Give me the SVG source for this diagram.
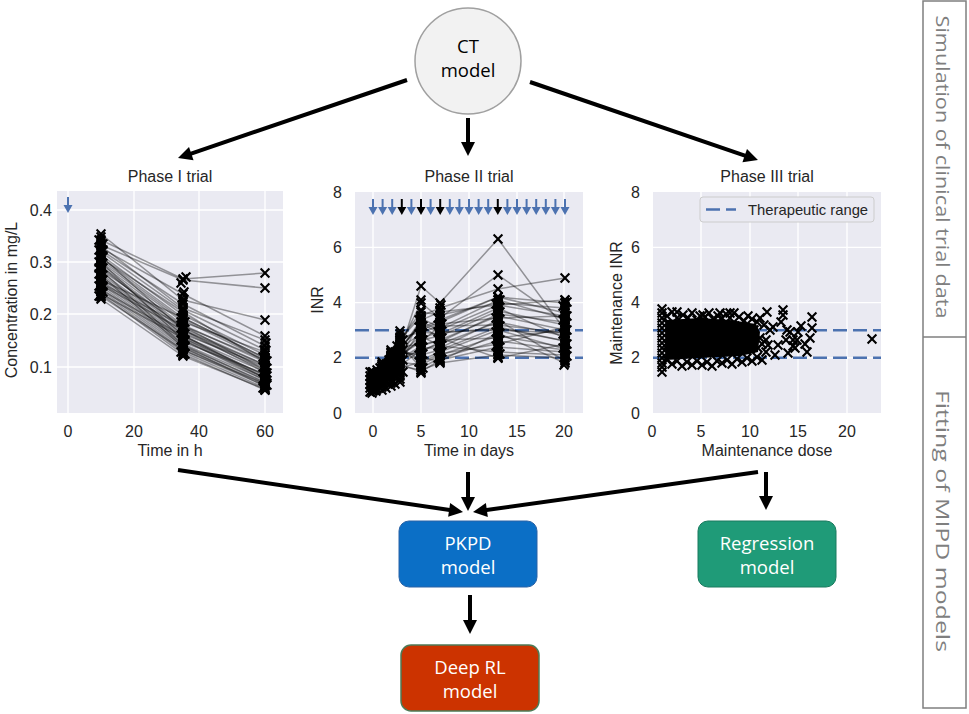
<svg xmlns="http://www.w3.org/2000/svg" xmlns:xlink="http://www.w3.org/1999/xlink" width="969" height="714" viewBox="0 0 969 714">
<style>
.ax{fill:#EAEAF2}
.gr{stroke:#fff;stroke-width:1.3;fill:none}
.tk{font-family:"Liberation Sans",Arial,sans-serif;font-size:16px;fill:#262626}
.lb{font-family:"Liberation Sans",Arial,sans-serif;font-size:16px;fill:#262626;text-anchor:middle}
.e{text-anchor:end}
.m{text-anchor:middle}
.ln{fill:none;stroke:#000;stroke-opacity:.38;stroke-width:1.5;marker-start:url(#xm);marker-mid:url(#xm);marker-end:url(#xm)}
.pt{fill:none;stroke:none;marker-start:url(#xm);marker-mid:url(#xm);marker-end:url(#xm)}
.dash{stroke:#4C72B0;stroke-width:2.5;stroke-dasharray:14 6;fill:none}
.cn{stroke:#000;stroke-width:4;fill:none;marker-end:url(#ah)}
.nt{font-family:"Open Sans","Noto Sans",sans-serif;font-size:18.5px;text-anchor:middle}
.side{font-family:"Open Sans","Noto Sans",sans-serif;font-size:19px;fill:#7f7f7f;text-anchor:middle;dominant-baseline:central}
</style>
<defs>
<marker id="xm" markerUnits="userSpaceOnUse" markerWidth="12" markerHeight="12" refX="6" refY="6" overflow="visible"><path d="M1.6 1.6L10.4 10.4M10.4 1.6L1.6 10.4" stroke="#000" stroke-width="2.1" fill="none"/></marker>
<marker id="ah" markerUnits="userSpaceOnUse" markerWidth="16" markerHeight="14" refX="4" refY="7" orient="auto" overflow="visible"><path d="M0 0L14 7L0 14z" fill="#000"/></marker>
<g id="da"><path d="M0 -8V2" stroke="currentColor" stroke-width="2"/><path d="M-4.5 0H4.5L0 8z" fill="currentColor"/></g>
</defs>

<g id="ct-model">
<circle cx="468" cy="61" r="53" fill="#F2F2F2" stroke="#A0A0A0" stroke-width="1.5"/>
<text class="nt" x="468" y="53" fill="#000">CT</text>
<text class="nt" x="468" y="77" fill="#000">model</text>
</g>

<g id="phase1">
<rect class="ax" x="57" y="191" width="226" height="222"/>
<path class="gr" d="M68 191V413M134 191V413M199 191V413M265 191V413M57 210H283M57 262H283M57 314H283M57 367H283"/>
<text class="tk e" x="52" y="215.5">0.4</text>
<text class="tk e" x="52" y="267.5">0.3</text>
<text class="tk e" x="52" y="319.5">0.2</text>
<text class="tk e" x="52" y="372.5">0.1</text>
<text class="tk m" x="68" y="437">0</text>
<text class="tk m" x="134" y="437">20</text>
<text class="tk m" x="199" y="437">40</text>
<text class="tk m" x="265" y="437">60</text>
<text class="lb" x="170" y="456">Time in h</text>
<text class="lb" x="170" y="182">Phase I trial</text>
<text class="lb" transform="translate(17 300) rotate(-90)">Concentration in mg/L</text>
<use xlink:href="#da" href="#da" x="68" y="205" color="#4C72B0"/>
<polyline class="ln" points="101,234 183,300 265,320"/>
<polyline class="ln" points="101,240 183,279 265,273"/>
<polyline class="ln" points="101,245 183,280 265,288"/>
<polyline class="ln" points="101,248 183,294 265,336"/>
<polyline class="ln" points="101,250 183,304 265,346"/>
<polyline class="ln" points="101,252 183,310 265,350"/>
<polyline class="ln" points="101,255 183,315 265,355"/>
<polyline class="ln" points="101,258 183,318 265,358"/>
<polyline class="ln" points="101,260 183,320 265,360"/>
<polyline class="ln" points="101,262 183,322 265,352"/>
<polyline class="ln" points="101,264 183,325 265,362"/>
<polyline class="ln" points="101,266 183,328 265,365"/>
<polyline class="ln" points="101,268 183,330 265,368"/>
<polyline class="ln" points="101,270 183,326 265,360"/>
<polyline class="ln" points="101,272 183,332 265,370"/>
<polyline class="ln" points="101,274 183,334 265,366"/>
<polyline class="ln" points="101,276 183,336 265,372"/>
<polyline class="ln" points="101,278 183,338 265,375"/>
<polyline class="ln" points="101,280 183,340 265,378"/>
<polyline class="ln" points="101,282 183,342 265,374"/>
<polyline class="ln" points="101,284 183,344 265,380"/>
<polyline class="ln" points="101,286 183,346 265,382"/>
<polyline class="ln" points="101,288 183,348 265,384"/>
<polyline class="ln" points="101,290 183,350 265,386"/>
<polyline class="ln" points="101,292 183,352 265,388"/>
<polyline class="ln" points="101,294 183,354 265,390"/>
<polyline class="ln" points="101,296 183,350 265,384"/>
<polyline class="ln" points="101,299 183,356 265,389"/>
<polyline class="ln" points="101,256 183,330 265,372"/>
<polyline class="ln" points="101,262 183,340 265,380"/>
<polyline class="ln" points="101,270 183,345 265,383"/>
<polyline class="ln" points="101,280 183,318 265,358"/>
<polyline class="ln" points="101,285 183,330 265,365"/>
<polyline class="ln" points="101,290 183,336 265,376"/>
<polyline class="ln" points="101,246 183,308 265,340"/>
<polyline class="ln" points="101,258 183,312 265,362"/>
<polyline class="ln" points="101,266 183,335 265,378"/>
<polyline class="ln" points="101,275 183,347 265,386"/>
<polyline class="ln" points="101,283 183,326 265,370"/>
<polyline class="ln" points="101,294 183,338 265,378"/>
<polyline class="pt" points="99,240 103,244 99,250 103,256 99,262 103,268 99,274 103,280 99,286 103,292 99,296 103,250 99,268 103,286"/>
<polyline class="pt" points="101,237 101,243 101,249 101,255 101,261 101,267 101,273 101,279 101,285 101,291 101,297"/>
<polyline class="pt" points="181,318 185,322 181,328 185,334 181,340 185,346 181,352 185,354 181,322 185,340 186,277 182,298 183,302 181,283 184,292"/>
<polyline class="pt" points="183,316 183,322 183,328 183,334 183,340 183,346 183,352 183,355"/>
<polyline class="pt" points="263,357 267,361 263,367 267,373 263,379 267,385 263,388 267,376 266,343 264,350"/>
<polyline class="pt" points="265,355 265,361 265,367 265,373 265,379 265,385 265,390"/>
</g>

<g id="phase2">
<rect class="ax" x="355" y="192" width="228" height="221"/>
<path class="gr" d="M373 192V413M421 192V413M469 192V413M517 192V413M564 192V413M355 247.4H583M355 302.6H583M355 357.8H583"/>
<text class="tk e" x="342" y="197.7">8</text>
<text class="tk e" x="342" y="252.9">6</text>
<text class="tk e" x="342" y="308.1">4</text>
<text class="tk e" x="342" y="363.3">2</text>
<text class="tk e" x="342" y="418.5">0</text>
<text class="tk m" x="373" y="437">0</text>
<text class="tk m" x="421" y="437">5</text>
<text class="tk m" x="469" y="437">10</text>
<text class="tk m" x="517" y="437">15</text>
<text class="tk m" x="564" y="437">20</text>
<text class="lb" x="469" y="456">Time in days</text>
<text class="lb" x="469" y="182">Phase II trial</text>
<text class="lb" transform="translate(323 300) rotate(-90)">INR</text>
<path class="dash" d="M355 330.2H583M355 357.8H583"/>
<g color="#4C72B0">
<use href="#da" x="373" y="207"/><use href="#da" x="382.6" y="207"/><use href="#da" x="392.2" y="207"/>
<use href="#da" x="411.4" y="207"/><use href="#da" x="430.6" y="207"/>
<use href="#da" x="449.8" y="207"/><use href="#da" x="459.4" y="207"/><use href="#da" x="469" y="207"/><use href="#da" x="478.6" y="207"/><use href="#da" x="488.2" y="207"/>
<use href="#da" x="507.4" y="207"/><use href="#da" x="517" y="207"/><use href="#da" x="526.6" y="207"/><use href="#da" x="536.2" y="207"/><use href="#da" x="545.8" y="207"/><use href="#da" x="555.4" y="207"/><use href="#da" x="565" y="207"/>
</g>
<g color="#000">
<use href="#da" x="401.8" y="207"/><use href="#da" x="421" y="207"/><use href="#da" x="440.2" y="207"/><use href="#da" x="497.8" y="207"/>
</g>
<polyline class="ln" points="373,388 382,378 391,366 400,352 421,286 440,303 498,239 565,330"/>
<polyline class="ln" points="373,385 382,375 391,360 400,345 421,303 440,318 498,275 565,322"/>
<polyline class="ln" points="373,380 382,370 391,358 400,340 421,316 440,308 498,289 565,278"/>
<polyline class="ln" points="373,390 382,382 391,372 400,360 421,330 440,322 498,297 565,303"/>
<polyline class="ln" points="373,383 382,372 391,362 400,350 421,322 440,330 498,305 565,316"/>
<polyline class="ln" points="373,386 382,376 391,366 400,355 421,340 440,336 498,311 565,325"/>
<polyline class="ln" points="373,378 382,368 391,356 400,346 421,345 440,340 498,316 565,330"/>
<polyline class="ln" points="373,391 382,384 391,375 400,366 421,350 440,344 498,322 565,336"/>
<polyline class="ln" points="373,384 382,374 391,364 400,352 421,355 440,350 498,327 565,341"/>
<polyline class="ln" points="373,381 382,371 391,362 400,348 421,360 440,352 498,330 565,333"/>
<polyline class="ln" points="373,387 382,379 391,370 400,362 421,365 440,355 498,336 565,347"/>
<polyline class="ln" points="373,376 382,366 391,355 400,344 421,368 440,358 498,341 565,350"/>
<polyline class="ln" points="373,389 382,381 391,373 400,364 421,372 440,360 498,347 565,352"/>
<polyline class="ln" points="373,382 382,373 391,363 400,354 421,336 440,346 498,352 565,355"/>
<polyline class="ln" points="373,379 382,369 391,358 400,347 421,326 440,338 498,358 565,344"/>
<polyline class="ln" points="373,385 382,377 391,369 400,360 421,318 440,328 498,300 565,319"/>
<polyline class="ln" points="373,372 382,362 391,350 400,338 421,332 440,334 498,308 565,338"/>
<polyline class="ln" points="373,388 382,380 391,371 400,361 421,348 440,348 498,320 565,361"/>
<polyline class="ln" points="373,383 382,375 391,365 400,356 421,358 440,361 498,333 565,363"/>
<polyline class="ln" points="373,377 382,366 391,353 400,340 421,312 440,315 498,303 565,308"/>
<polyline class="ln" points="373,390 382,383 391,376 400,368 421,362 440,354 498,344 565,327"/>
<polyline class="ln" points="373,386 382,378 391,368 400,357 421,352 440,342 498,314 565,322"/>
<polyline class="ln" points="373,381 382,373 391,364 400,355 421,342 440,326 498,325 565,333"/>
<polyline class="ln" points="373,374 382,364 391,352 400,342 421,328 440,320 498,297 565,313"/>
<polyline class="ln" points="373,384 382,376 391,367 400,358 421,338 440,332 498,330 565,349"/>
<polyline class="ln" points="373,380 382,372 391,361 400,350 421,320 440,312 498,305 565,300"/>
<polyline class="ln" points="373,387 382,379 391,369 400,359 421,346 440,340 498,338 565,330"/>
<polyline class="ln" points="373,376 382,368 391,358 400,348 421,334 440,324 498,318 565,316"/>
<polyline class="ln" points="373,389 382,382 391,374 400,366 421,370 440,363 498,355 565,358"/>
<polyline class="ln" points="373,378 382,370 391,360 400,349 421,324 440,333 498,328 565,341"/>
<polyline class="pt" points="370,372 370,376 370,380 370,384 370,388 370,392 372,372 372,375 372,378 372,381 372,384 372,387 372,390 372,393 376,391 376,374 377,370 377,378 377,384 377,389"/>
<polyline class="pt" points="382,366 382,369 382,372 382,375 382,378 382,381 382,384 382,387 382,390 386,388 386,364 386,370 386,376 386,382 380,368 380,380"/>
<polyline class="pt" points="391,356 391,359 391,362 391,365 391,368 391,371 391,374 391,377 391,380 391,383 391,386 395,384 395,352 395,358 395,364 395,370 395,376 389,360 389,374"/>
<polyline class="pt" points="400,331 400,334 400,337 400,340 400,343 400,346 400,349 400,352 400,355 400,358 400,361 400,364 400,367 400,370 400,373 400,376 400,379 400,382 403,340 403,350 403,360 403,372 397,346 397,358 397,370"/>
<polyline class="pt" points="421,300 421,310 421,316 421,319 421,322 421,325 421,328 421,331 421,334 421,337 421,340 421,343 421,346 421,349 421,352 421,355 421,358 421,361 421,364 421,367 421,370 421,373 419,320 419,334 419,348 419,362 423,326 423,340 423,354 423,368"/>
<polyline class="pt" points="440,311 440,316 440,320 440,323 440,326 440,329 440,332 440,335 440,338 440,341 440,344 440,347 440,350 440,353 440,356 440,359 440,362 441,305 438,318 438,332 438,346 438,358 442,324 442,338 442,352"/>
<polyline class="pt" points="498,297 498,300 498,303 498,306 498,309 498,312 498,315 498,318 498,321 498,324 498,327 498,330 498,333 498,336 498,339 498,342 498,345 498,348 498,351 498,354 498,357 498,358 496,304 496,318 496,332 496,346 500,300 500,312 500,326 500,340 500,354"/>
<polyline class="pt" points="565,300 565,303 565,306 565,309 565,312 565,315 565,318 565,321 565,324 565,327 565,330 565,333 565,336 565,339 565,342 565,345 565,348 565,351 565,354 565,357 565,360 564,365 563,306 563,320 563,334 563,348 567,302 567,316 567,330 567,344 567,356"/>
</g>

<g id="phase3">
<rect class="ax" x="653" y="192" width="228" height="221"/>
<path class="gr" d="M701 192V413M750 192V413M798 192V413M847 192V413M653 247.4H881M653 302.6H881M653 357.8H881"/>
<text class="tk e" x="640" y="197.7">8</text>
<text class="tk e" x="640" y="252.9">6</text>
<text class="tk e" x="640" y="308.1">4</text>
<text class="tk e" x="640" y="363.3">2</text>
<text class="tk e" x="640" y="418.5">0</text>
<text class="tk m" x="652" y="437">0</text>
<text class="tk m" x="701" y="437">5</text>
<text class="tk m" x="750" y="437">10</text>
<text class="tk m" x="798" y="437">15</text>
<text class="tk m" x="847" y="437">20</text>
<text class="lb" x="767" y="456">Maintenance dose</text>
<text class="lb" x="767" y="182">Phase III trial</text>
<text class="lb" transform="translate(622 303) rotate(-90)">Maintenance INR</text>
<path class="dash" d="M653 330.2H881M653 357.8H881"/>
<path d="M666 320L700 318L730 320L756 324L760 332L758 352L740 356L700 358L666 360Z" fill="#000"/>
<polyline class="pt" points="662,309 662,313 662,318 662,323 662,328 662,333 662,338 662,343 662,348 662,353 662,358 662,363 662,367 662,372 667,316 672,312 677,318 683,315 688,318 692,313 697,320 700,316 705,317 709,313 713,319 718,316 722,318 726,314 730,318 734,313 739,317 744,321 748,316 752,319 757,322 760,318 764,325 677,312 703,315 720,313 730,313"/>
<polyline class="pt" points="667,360 672,364 677,361 682,366 687,362 692,365 697,361 702,365 707,362 712,366 717,361 722,363 727,360 732,364 737,359 742,362 747,358 752,361 757,357 762,360 766,352 766,340 768,345 767,312"/>
<polyline class="pt" points="670,325 676,332 682,327 688,336 694,326 700,333 706,328 712,338 718,325 724,334 730,327 736,340 742,326 748,335 754,330 760,338 668,345 674,350 680,342 686,354 692,346 698,351 704,344 710,352 716,346 722,351 728,343 734,350 740,347 746,350 752,344 758,348 762,344"/>
<polyline class="pt" points="770,330 773,327 775,355 778,345 781,322 783,310 783,315 786,340 788,353 790,332 793,340 795,348 798,332 801,326 805,344 807,352 810,338 812,317 812,328 787,330 797,340 793,346 872,339"/>
<rect x="700" y="197" width="174" height="25" rx="3" fill="#EAEAF2" stroke="#CCCCCC" stroke-width="1"/>
<path class="dash" d="M706 209.5H736"/>
<text class="tk" x="748" y="215" style="font-size:14.8px">Therapeutic range</text>
</g>

<g id="pkpd-model">
<rect x="399" y="521" width="138" height="66" rx="10" fill="#0B6FC6" stroke="#2a63a6" stroke-width="1"/>
<text class="nt" x="468" y="550" fill="#fff">PKPD</text>
<text class="nt" x="468" y="574" fill="#fff">model</text>
</g>

<g id="regression-model">
<rect x="698" y="521" width="138" height="66" rx="10" fill="#1F9B78" stroke="#1a7a5e" stroke-width="1"/>
<text class="nt" x="767" y="550" fill="#fff">Regression</text>
<text class="nt" x="767" y="574" fill="#fff">model</text>
</g>

<g id="deep-rl-model">
<rect x="401" y="645" width="138" height="66" rx="10" fill="#CC3300" stroke="#4d7a56" stroke-width="1.5"/>
<text class="nt" x="470" y="674" fill="#fff">Deep RL</text>
<text class="nt" x="470" y="698" fill="#fff">model</text>
</g>

<g id="side-panel">
<rect x="923" y="1" width="43" height="707" fill="none" stroke="#7f7f7f" stroke-width="1.5"/>
<path d="M923 337H966" stroke="#7f7f7f" stroke-width="1.5"/>
<text class="side" transform="translate(943 167) rotate(90)" textLength="303" lengthAdjust="spacingAndGlyphs">Simulation of clinical trial data</text>
<text class="side" transform="translate(943 521) rotate(90)" textLength="262" lengthAdjust="spacingAndGlyphs">Fitting of MIPD models</text>
</g>

<g id="connectors">
<path class="cn" d="M407 80L187.5 154.8"/>
<path class="cn" d="M468 118V146"/>
<path class="cn" d="M530 82L748.5 156.8"/>
<path class="cn" d="M178 470L453.1 510.5"/>
<path class="cn" d="M468 472V501"/>
<path class="cn" d="M758 472L482.9 510.6"/>
<path class="cn" d="M766 472V500"/>
<path class="cn" d="M470 595V624"/>
</g>
</svg>
